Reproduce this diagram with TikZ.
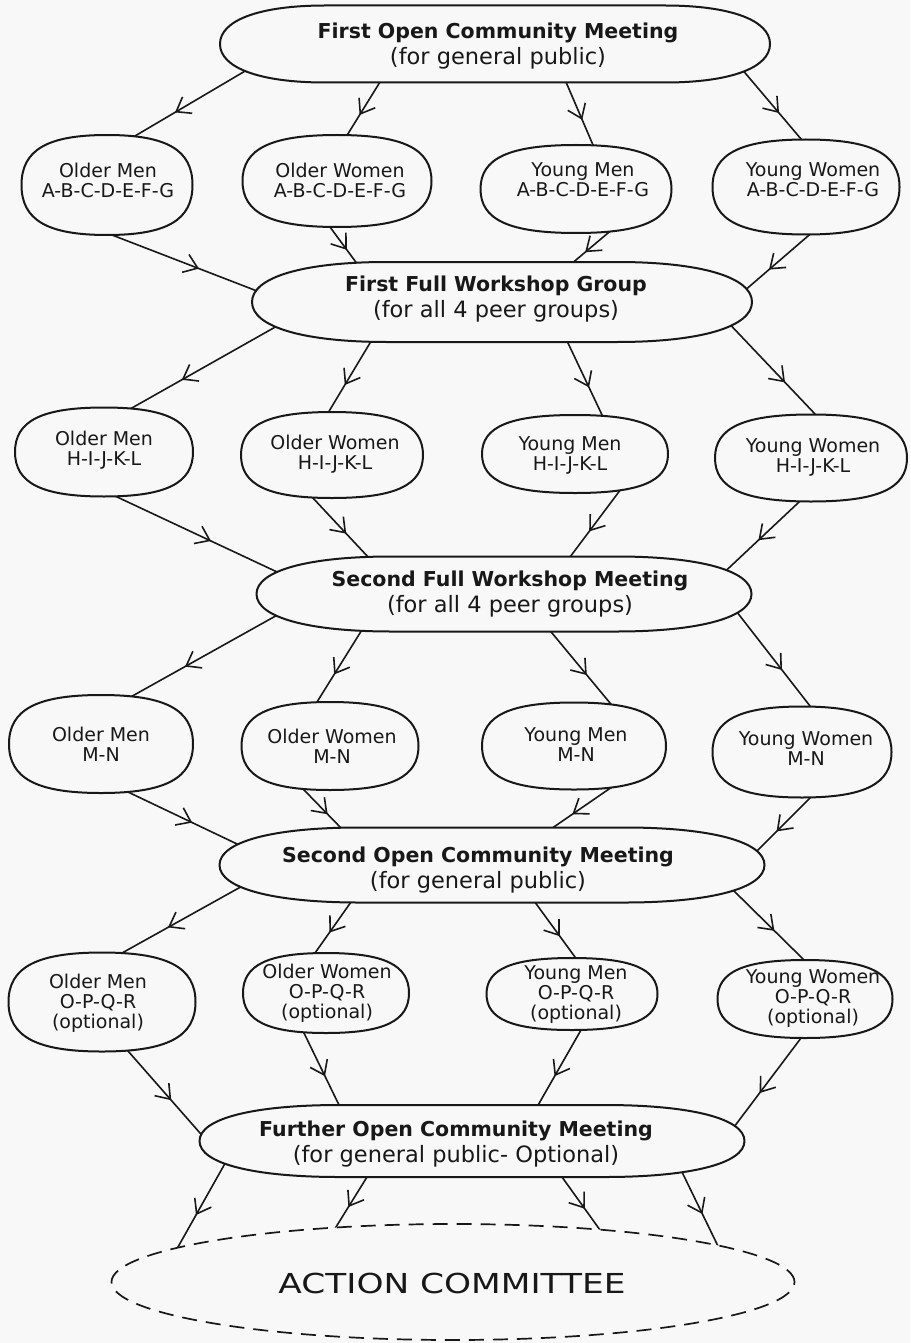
\documentclass[tikz,border=0pt]{standalone}
\usepackage{fontspec}
\setmainfont{DejaVu Sans}
\newfontfamily\acfont[FakeStretch=1.25]{DejaVu Sans}
\usetikzlibrary{calc,arrows.meta,decorations.markings,shapes.geometric}
\definecolor{bgc}{RGB}{248,248,248}
\definecolor{ink}{RGB}{24,24,24}
\pgfdeclarelayer{bglayer}
\pgfdeclarelayer{edgelayer}
\pgfsetlayers{bglayer,edgelayer,main}
% rounded shape drawn round an invisible node: #1 name, #2 corner x-radius, #3 fullness
\newcommand\blobpath[3]{%
  \draw[blobline] (#1.west)
  .. controls ($(#1.west)!#3!(#1.north west)$) and ($(#1.north west)+({(1-#3)*#2},0)$) .. ($(#1.north west)+(#2,0)$)
  -- ($(#1.north east)+(-#2,0)$)
  .. controls ($(#1.north east)+({-(1-#3)*#2},0)$) and ($(#1.east)!#3!(#1.north east)$) .. (#1.east)
  .. controls ($(#1.east)!#3!(#1.south east)$) and ($(#1.south east)+({-(1-#3)*#2},0)$) .. ($(#1.south east)+(-#2,0)$)
  -- ($(#1.south west)+(#2,0)$)
  .. controls ($(#1.south west)+({(1-#3)*#2},0)$) and ($(#1.west)!#3!(#1.south west)$) .. (#1.west)
  -- cycle;}
\newcommand\bx[5]{\node[blobbox,minimum width=#4pt,minimum height=#5pt] (#1) at (#2,#3) {};}
\newcommand\ttl[1]{{\fontsize{20.5}{26}\selectfont\bfseries #1}}
\begin{document}
\begin{tikzpicture}[x=1pt,y=-1pt,
  blobbox/.style={rectangle,draw=none,inner sep=0pt,outer sep=0pt},
  blobline/.style={draw=ink,line width=2pt,fill=bgc,line join=round},
  flowline/.style={draw=ink,line width=1.6pt,shorten <=-16pt,shorten >=-16pt,
    postaction={decorate},
    decoration={markings,mark=at position 0.6 with {\arrow{Straight Barb[length=13pt,width=19pt]}}}},
  ptext/.style={align=center,inner sep=0pt,font=\fontsize{19}{20}\selectfont,text=ink},
  btext/.style={align=center,inner sep=0pt,font=\fontsize{22.5}{26}\selectfont,text=ink}]
\useasboundingbox (0,0) rectangle (910,1343);
\begin{pgfonlayer}{bglayer}
\fill[bgc] (0,0) rectangle (910,1343);
\end{pgfonlayer}
% invisible nodes fixing each shape
\bx{T1}{495}{44}{550}{77}
\bx{a1}{107}{185}{171}{100}
\bx{b1}{337}{181}{189}{92}
\bx{c1}{576}{189}{191}{88}
\bx{d1}{806}{187}{187}{95}
\bx{W1}{502}{302}{500}{80}
\bx{a2}{104}{452}{178}{89}
\bx{b2}{332}{455}{182}{86}
\bx{c2}{575}{454}{186}{78}
\bx{d2}{811}{458}{192}{87}
\bx{W2}{504}{594}{495}{75}
\bx{a3}{101}{744}{184}{98}
\bx{b3}{330}{746}{177}{88}
\bx{c3}{574}{746}{184}{87}
\bx{d3}{802}{752}{179}{91}
\bx{O2}{492}{865}{545}{75}
\bx{a4}{102}{1002}{187}{99}
\bx{b4}{326}{993}{166}{80}
\bx{c4}{572}{994}{171}{72}
\bx{d4}{805}{999}{175}{78}
\bx{O3}{472}{1141}{545}{72}
\node[ellipse,draw=ink,fill=bgc,line width=1.7pt,dash pattern=on 15pt off 9pt,
  minimum width=683pt,minimum height=116pt,inner sep=0pt] (AC) at (453,1282) {};
% connectors
\begin{pgfonlayer}{edgelayer}
\draw[flowline] ($(T1)+(-260,33)$) -- ($(a1)+(28,-49)$);
\draw[flowline] ($(T1)+(-115,38)$) -- ($(b1)+(9,-44)$);
\draw[flowline] ($(T1)+(71,38)$) -- ($(c1)+(17,-44)$);
\draw[flowline] ($(T1)+(251,30)$) -- ($(d1)+(-5,-48)$);
\draw[flowline] ($(a1)+(5,50)$) -- ($(W1)+(-245,-11)$);
\draw[flowline] ($(b1)+(-7,46)$) -- ($(W1)+(-144,-37)$);
\draw[flowline] ($(c1)+(32,44)$) -- ($(W1)+(68,-37)$);
\draw[flowline] ($(d1)+(2,49)$) -- ($(W1)+(241,-10)$);
\draw[flowline] ($(W1)+(-232,28)$) -- ($(a2)+(19,-39)$);
\draw[flowline] ($(W1)+(-132,41)$) -- ($(b2)+(-4,-42)$);
\draw[flowline] ($(W1)+(66,41)$) -- ($(c2)+(28,-37)$);
\draw[flowline] ($(W1)+(238,33)$) -- ($(d2)+(4,-44)$);
\draw[flowline] ($(a2)+(11,44)$) -- ($(W2)+(-229,-23)$);
\draw[flowline] ($(b2)+(-20,42)$) -- ($(W2)+(-135,-36)$);
\draw[flowline] ($(c2)+(43,39)$) -- ($(W2)+(66,-37)$);
\draw[flowline] ($(d2)+(-13,45)$) -- ($(W2)+(228,-29)$);
\draw[flowline] ($(W2)+(-232,24)$) -- ($(a3)+(26,-45)$);
\draw[flowline] ($(W2)+(-144,39)$) -- ($(b3)+(-13,-44)$);
\draw[flowline] ($(W2)+(48,39)$) -- ($(c3)+(36,-43)$);
\draw[flowline] ($(W2)+(236,22)$) -- ($(d3)+(8,-46)$);
\draw[flowline] ($(a3)+(27,48)$) -- ($(O2)+(-257,-22)$);
\draw[flowline] ($(b3)+(-24,46)$) -- ($(O2)+(-150,-36)$);
\draw[flowline] ($(c3)+(35,43)$) -- ($(O2)+(56,-34)$);
\draw[flowline] ($(d3)+(7,47)$) -- ($(O2)+(263,-12)$);
\draw[flowline] ($(O2)+(-255,24)$) -- ($(a4)+(20,-49)$);
\draw[flowline] ($(O2)+(-141,37)$) -- ($(b4)+(-11,-40)$);
\draw[flowline] ($(O2)+(45,40)$) -- ($(c4)+(3,-37)$);
\draw[flowline] ($(O2)+(241,25)$) -- ($(d4)+(-3,-41)$);
\draw[flowline] ($(a4)+(26,49)$) -- ($(O3)+(-272,-8)$);
\draw[flowline] ($(b4)+(-22,40)$) -- ($(O3)+(-133,-36)$);
\draw[flowline] ($(c4)+(9,36)$) -- ($(O3)+(65,-34)$);
\draw[flowline] ($(d4)+(-7,43)$) -- ($(O3)+(262,-14)$);
\draw[flowline] ($(O3)+(-249,26)$) -- ($(AC)+(-275,-35)$);
\draw[flowline] ($(O3)+(-105,36)$) -- ($(AC)+(-117,-55)$);
\draw[flowline] ($(O3)+(90,36)$) -- ($(AC)+(147,-52)$);
\draw[flowline] ($(O3)+(210,31)$) -- ($(AC)+(263,-40)$);
\end{pgfonlayer}
% outlines
\blobpath{T1}{105}{0.62}
\blobpath{W1}{135}{0.62}
\blobpath{W2}{135}{0.62}
\blobpath{O2}{140}{0.62}
\blobpath{O3}{140}{0.62}
\blobpath{a1}{85.5}{0.7}
\blobpath{b1}{94.5}{0.7}
\blobpath{c1}{95.5}{0.7}
\blobpath{d1}{93.5}{0.7}
\blobpath{a2}{89}{0.7}
\blobpath{b2}{91}{0.7}
\blobpath{c2}{93}{0.7}
\blobpath{d2}{96}{0.7}
\blobpath{a3}{92}{0.7}
\blobpath{b3}{88.5}{0.7}
\blobpath{c3}{92}{0.7}
\blobpath{d3}{89.5}{0.7}
\blobpath{a4}{93.5}{0.7}
\blobpath{b4}{83}{0.7}
\blobpath{c4}{85.5}{0.7}
\blobpath{d4}{87.5}{0.7}
% texts
\node[btext] (T1t) at (498,46) {\ttl{First Open Community Meeting}\\(for general public)};
\node[ptext] (a1t) at (108,180) {Older Men\\A-B-C-D-E-F-G};
\node[ptext] (b1t) at (340,180) {Older Women\\A-B-C-D-E-F-G};
\node[ptext] (c1t) at (583,180) {Young Men\\A-B-C-D-E-F-G};
\node[ptext] (d1t) at (813,180) {Young Women\\A-B-C-D-E-F-G};
\node[btext] (W1t) at (496,299) {\ttl{First Full Workshop Group}\\(for all 4 peer groups)};
\node[ptext] (a2t) at (104,450) {Older Men\\H-I-J-K-L};
\node[ptext] (b2t) at (335,454) {Older Women\\H-I-J-K-L};
\node[ptext] (c2t) at (570,455) {Young Men\\H-I-J-K-L};
\node[ptext] (d2t) at (813,457) {Young Women\\H-I-J-K-L};
\node[btext] (W2t) at (510,594) {\ttl{Second Full Workshop Meeting}\\(for all 4 peer groups)};
\node[ptext] (a3t) at (101,744) {Older Men\\M-N};
\node[ptext] (b3t) at (332,746) {Older Women\\M-N};
\node[ptext] (c3t) at (576,745) {Young Men\\M-N};
\node[ptext] (d3t) at (806,749) {Young Women\\M-N};
\node[btext] (O2t) at (478,870) {\ttl{Second Open Community Meeting}\\(for general public)};
\node[ptext] (a4t) at (98,1003) {Older Men\\O-P-Q-R\\(optional)};
\node[ptext] (b4t) at (327,993) {Older Women\\O-P-Q-R\\(optional)};
\node[ptext] (c4t) at (576,995) {Young Men\\O-P-Q-R\\(optional)};
\node[ptext] (d4t) at (813,999) {Young Women\\O-P-Q-R\\(optional)};
\node[btext] (O3t) at (456,1144) {\ttl{Further Open Community Meeting}\\(for general public- Optional)};
\node[inner sep=0pt,text=ink,font=\acfont\fontsize{27.5}{30}\selectfont] (ACt) at (452,1283) {ACTION COMMITTEE};
\end{tikzpicture}
\end{document}
